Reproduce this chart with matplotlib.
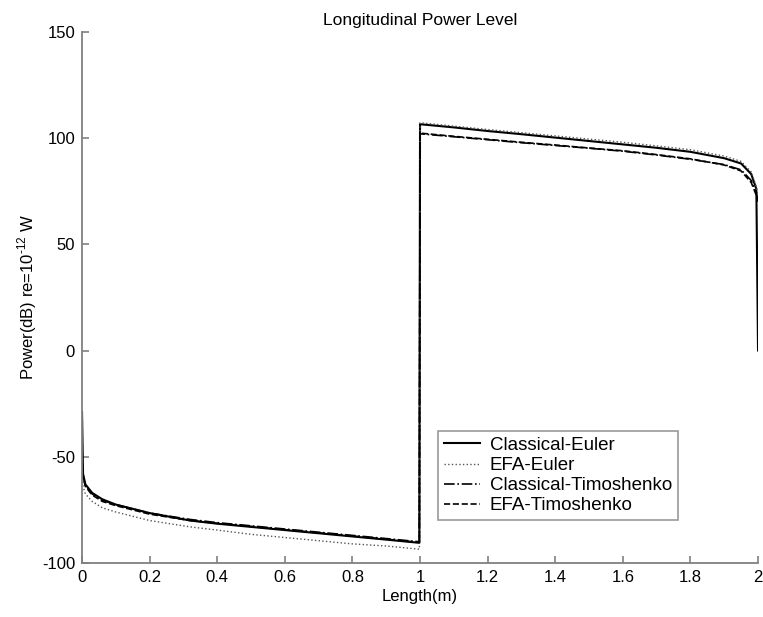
import numpy as np
import matplotlib
matplotlib.use("Agg")
import matplotlib.pyplot as plt

plt.rcParams['font.family'] = ['Liberation Sans', 'DejaVu Sans']
plt.rcParams['axes.unicode_minus'] = False
plt.rcParams['mathtext.fontset'] = 'custom'
plt.rcParams['mathtext.rm'] = 'Liberation Sans'

# position along the beam (m)
length = [0.0, 0.003, 0.01, 0.03, 0.06, 0.1, 0.2, 0.32, 0.4, 0.5, 0.6, 0.7, 0.8, 0.9, 0.998,
          1.0, 1.1, 1.2, 1.3, 1.4, 1.5, 1.6, 1.7, 1.8, 1.9, 1.95, 1.98, 1.995, 2.0]

classical_euler = [-29, -58, -63, -67, -70, -72.5, -76.5, -80, -81.5, -83, -84.5, -86, -87.5, -89, -90.5,
                   106.5, 105, 103.3, 101.8, 100.2, 98.6, 97, 95.4, 93.5, 90.5, 88, 83, 76, 0]
efa_euler = [-60, -64, -67.5, -71, -74, -76, -80, -83, -84.5, -86.5, -88, -89.5, -91, -92, -93.5,
             107.2, 105.6, 104, 102.5, 101, 99.5, 98, 96.3, 94.5, 91.5, 89, 84, 77, 72]
classical_timo = [-57, -59, -63.5, -67.5, -70.5, -72.5, -76.5, -79.5, -81, -82.5, -84, -85.5, -87, -88.5, -90,
                  102, 100.6, 99.2, 97.8, 96.5, 95.2, 93.8, 92, 90, 87.5, 85, 80, 74, 70]
efa_timo = [-57.5, -59.5, -64, -68, -71, -73, -77, -80, -81.3, -82.8, -84.3, -85.8, -87.3, -88.8, -90.3,
            102.3, 100.8, 99.4, 98, 96.7, 95.3, 94, 92.2, 90.2, 87.3, 84.5, 79, 73, 70]

fig = plt.figure(figsize=(7.63, 6.17), dpi=100)
ax = fig.add_axes([0.1075, 0.0875, 0.886, 0.861])

ax.plot(length, classical_euler, '-', color='black', lw=1.5, label='Classical-Euler')
ax.plot(length, efa_euler, ':', color='#555555', lw=1.0, label='EFA-Euler')
ax.plot(length, classical_timo, '-.', color='black', lw=1.2, label='Classical-Timoshenko')
ax.plot(length, efa_timo, '--', color='black', lw=1.2, label='EFA-Timoshenko')

ax.set_xlim(0, 2)
ax.set_ylim(-100, 150)
ax.set_xticks(np.arange(0, 2.01, 0.2))
ax.set_xticklabels(['0', '0.2', '0.4', '0.6', '0.8', '1', '1.2', '1.4', '1.6', '1.8', '2'])
ax.set_yticks([-100, -50, 0, 50, 100, 150])

for side in ['top', 'right']:
    ax.spines[side].set_visible(False)
for side in ['left', 'bottom']:
    ax.spines[side].set_color('#808080')
    ax.spines[side].set_linewidth(1.3)
ax.tick_params(direction='in', length=5, width=1.2, color='#808080', labelsize=12, pad=5)

ax.set_xlabel('Length(m)', fontsize=12, labelpad=3)
ax.set_ylabel('Power(dB) re=10$^{\\text{-12}}$ W', fontsize=12, labelpad=2)
ax.set_title('Longitudinal Power Level', fontsize=12.5, pad=5)

leg = ax.legend(loc='lower left', bbox_to_anchor=(0.527, 0.081), fontsize=13.5, frameon=True,
                fancybox=False, edgecolor='#808080', handlelength=1.9, handletextpad=0.55,
                labelspacing=0.16, borderpad=0.3, borderaxespad=0)
leg.get_frame().set_linewidth(1.2)

plt.savefig('out.png', dpi=100)
